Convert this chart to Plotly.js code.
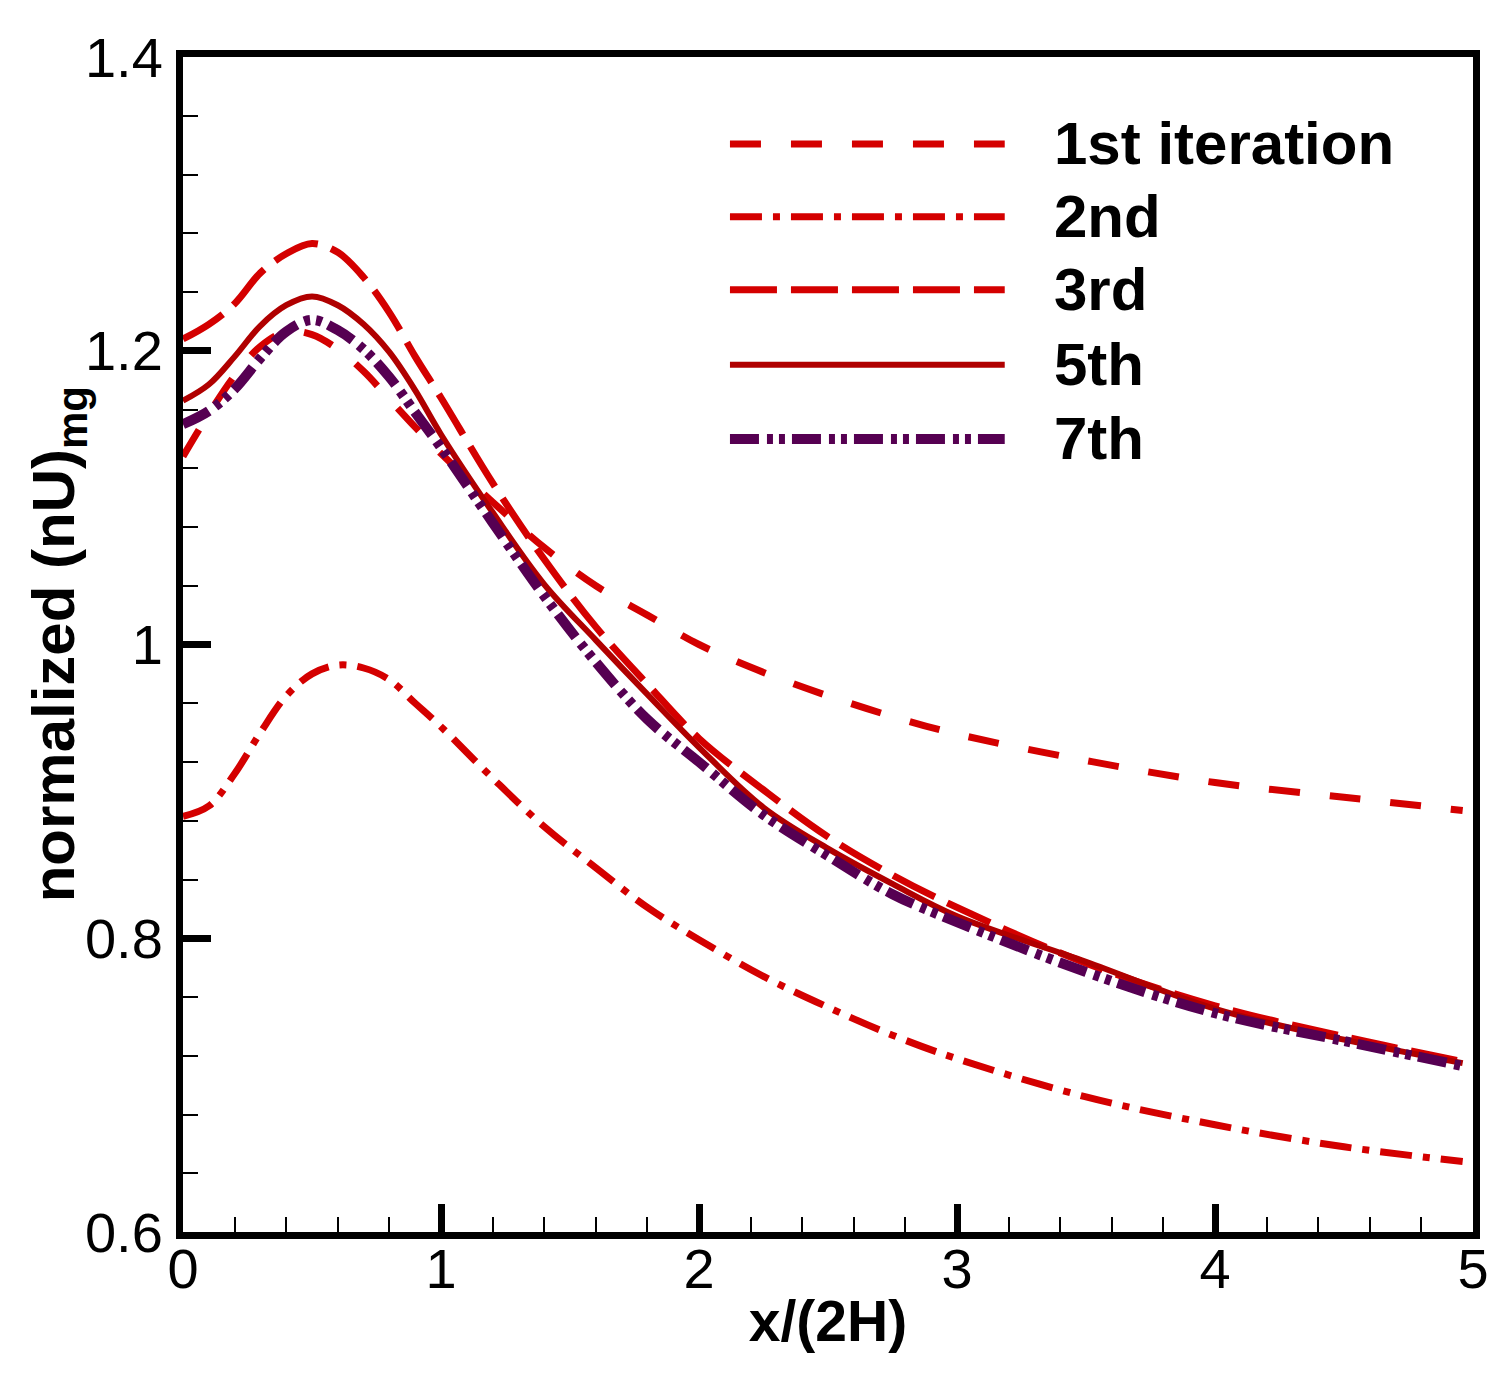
<!DOCTYPE html>
<html>
<head>
<meta charset="utf-8">
<script src="https://cdn.plot.ly/plotly-3.0.1.min.js"></script>
<style>
  body { margin: 0; background: #fff; }
  #chart { width: 1507px; height: 1373px; }
</style>
</head>
<body>
<div id="chart"></div>
<script>
/* ─── Data ───────────────────────────────────────────────────────────────── */
const xGrid = [0, 0.1, 0.2, 0.3, 0.4, 0.5, 0.6, 0.7, 0.8, 0.9, 1.0, 1.2, 1.4, 1.6, 1.8,
               2.0, 2.25, 2.5, 2.75, 3.0, 3.5, 4.0, 4.5, 4.96];

const iter1 = [1.128, 1.157, 1.183, 1.203, 1.213, 1.211, 1.201, 1.186, 1.167, 1.148, 1.130, 1.097,
               1.066, 1.040, 1.020, 1.000, 0.981, 0.965, 0.951, 0.939, 0.921, 0.906, 0.896, 0.887];
const iter2 = [0.883, 0.890, 0.912, 0.940, 0.965, 0.980, 0.986, 0.984, 0.976, 0.960, 0.944, 0.909,
               0.876, 0.848, 0.821, 0.799, 0.774, 0.753, 0.734, 0.718, 0.692, 0.673, 0.658, 0.648];
const iter3 = [1.208, 1.218, 1.232, 1.253, 1.266, 1.273, 1.267, 1.250, 1.226, 1.196, 1.168, 1.110,
               1.058, 1.012, 0.973, 0.936, 0.901, 0.869, 0.843, 0.821, 0.783, 0.754, 0.733, 0.716];
const iter5 = [1.166, 1.177, 1.196, 1.217, 1.231, 1.237, 1.231, 1.218, 1.199, 1.173, 1.143, 1.090,
               1.041, 1.003, 0.966, 0.930, 0.889, 0.861, 0.837, 0.815, 0.784, 0.752, 0.731, 0.715];
const iter7 = [1.150, 1.159, 1.174, 1.195, 1.213, 1.221, 1.214, 1.201, 1.182, 1.158, 1.134, 1.083,
               1.033, 0.988, 0.949, 0.920, 0.884, 0.856, 0.830, 0.811, 0.777, 0.749, 0.730, 0.713];

const seriesNames = ["1st iteration", "2nd", "3rd", "5th", "7th"];
const xTicks = [0, 1, 2, 3, 4, 5];

/* ─── Styles ─────────────────────────────────────────────────────────────── */
const styles = [
  { color: "#d40000", width: 7,  dash: "31px,30px" },
  { color: "#d40000", width: 7,  dash: "32px,11px,7px,11px" },
  { color: "#d40000", width: 7,  dash: "47px,14px" },
  { color: "#b00000", width: 6,  dash: "solid" },
  { color: "#560052", width: 10, dash: "29px,8px,6px,6px,6px,7px" },
];
const FONT = "Liberation Sans, Arial, Helvetica, sans-serif";

const ySeries = [iter1, iter2, iter3, iter5, iter7];
const traces = ySeries.map((ys, i) => ({
  type: "scatter", mode: "lines", name: seriesNames[i],
  x: xGrid, y: ys,
  line: { color: styles[i].color, width: styles[i].width, dash: styles[i].dash, shape: "spline", smoothing: 1 },
}));

/* legend drawn by hand so the line samples can be long */
const legX0 = 0.424, legX1 = 0.637, legTextX = 0.674;
const legY = [0.926, 0.864, 0.802, 0.738, 0.675];
const legShapes = styles.map((s, i) => ({
  type: "line", xref: "paper", yref: "paper",
  x0: legX0, x1: legX1, y0: legY[i], y1: legY[i],
  line: { color: s.color, width: s.width, dash: s.dash },
}));
const legLabels = seriesNames.map((n, i) => ({
  xref: "paper", yref: "paper", x: legTextX, y: legY[i],
  xanchor: "left", yanchor: "middle", showarrow: false,
  text: n, font: { family: FONT, size: 60, color: "#000", weight: "bold" },
}));

const yTitle = {
  xref: "paper", yref: "paper", x: -0.097, y: 0.5,
  xanchor: "center", yanchor: "middle", showarrow: false, textangle: -90,
  text: "normalized (nU)<sub>mg</sub>",
  font: { family: FONT, size: 60, color: "#000", weight: "bold" },
};

const axisCommon = {
  ticks: "inside", ticklen: 28, tickwidth: 7, tickcolor: "#000",
  showline: true, linewidth: 7, linecolor: "#000", mirror: true,
  showgrid: false, zeroline: false,
  tickfont: { family: FONT, size: 56, color: "#000" },
};

const layout = {
  width: 1507, height: 1373,
  margin: { l: 183, r: 34, t: 57, b: 141 },
  paper_bgcolor: "#fff", plot_bgcolor: "#fff",
  showlegend: false,
  font: { family: FONT, color: "#000" },
  xaxis: {
    ...axisCommon, range: [0, 5], tickvals: xTicks, ticklabelstandoff: -18,
    minor: { dtick: 0.2, ticks: "inside", ticklen: 15, tickwidth: 2, tickcolor: "#000", showgrid: false },
    title: { text: "x/(2H)", standoff: 4, font: { family: FONT, size: 57, color: "#000", weight: "bold" } },
  },
  yaxis: {
    ...axisCommon, range: [0.6, 1.4], dtick: 0.2, tick0: 0.6, ticklabelstandoff: 2,
    minor: { dtick: 0.04, ticks: "inside", ticklen: 15, tickwidth: 2, tickcolor: "#000", showgrid: false },
  },
  shapes: legShapes,
  annotations: [...legLabels, yTitle],
};

Plotly.newPlot("chart", traces, layout, { staticPlot: true, displaylogo: false });
</script>
</body>
</html>
